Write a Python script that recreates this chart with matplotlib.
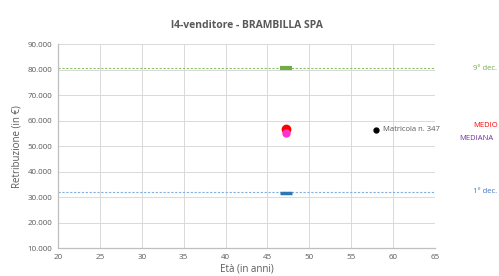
import matplotlib.pyplot as plt
from matplotlib.ticker import FuncFormatter, MultipleLocator

plt.rcParams['font.family'] = ['Open Sans', 'DejaVu Sans']

TITLE = "l4-venditore - BRAMBILLA SPA"

# age / salary values
dec9_age, dec9_value = 47.2, 80600
dec1_age, dec1_value = 47.2, 31800
mean_age, mean_value = 47.2, 56900
median_age, median_value = 47.2, 55300
employee_age, employee_value = 58, 56400
employee_label = "Matricola n. 347"

x_ticks = list(range(20, 70, 5))
GREY = '#595959'


def thousands(v, pos):
    return '{:,.0f}'.format(v).replace(',', '.')


def main():
    fig = plt.figure(figsize=(4.99, 2.76), dpi=100)
    ax = fig.add_axes([0.116, 0.101, 0.756, 0.738])

    ax.axhline(dec9_value, color='#8CC06A', linestyle=(0, (2, 1.5)), linewidth=0.8, zorder=2)
    ax.axhline(dec1_value + 400, color='#7FB0DE', linestyle=(0, (2, 1.5)), linewidth=0.8, zorder=2)

    ax.plot([dec9_age], [dec9_value], marker='_', markersize=9, mew=3, color='#70AD47', zorder=3)
    ax.plot([dec1_age], [dec1_value], marker='_', markersize=9, mew=2.5, color='#2E75B6', zorder=3)
    ax.plot([mean_age], [mean_value], marker='o', markersize=6, color='#FF0000', zorder=4)
    ax.plot([median_age], [median_value], marker='o', markersize=5, color='#FF33CC', zorder=5)
    ax.plot([employee_age], [employee_value], marker='o', markersize=3.5, color='black', zorder=4)
    ax.annotate(employee_label, (employee_age, employee_value), xytext=(5, 0),
                textcoords='offset points', va='center', fontsize=5.5, color=GREY)

    side = dict(xycoords=('axes fraction', 'data'), ha='center', va='center', fontsize=5.5)
    ax.annotate("9° dec.", (1.133, dec9_value), color='#70AD47', **side)
    ax.annotate("MEDIO", (1.133, 58300), color='#FF0000', **side)
    ax.annotate("MEDIANA", (1.11, 53100), color='#7030A0', **side)
    ax.annotate("1° dec.", (1.133, 32400), color='#4472C4', **side)

    ax.set_xlim(20, 65)
    ax.set_ylim(10000, 90000)
    ax.set_xticks(x_ticks)
    ax.yaxis.set_major_locator(MultipleLocator(10000))
    ax.yaxis.set_major_formatter(FuncFormatter(thousands))
    ax.grid(True, color='#D9D9D9', linewidth=0.7, zorder=0)
    ax.set_axisbelow(True)

    for side_name in ['top', 'right']:
        ax.spines[side_name].set_visible(False)
    for side_name in ['left', 'bottom']:
        ax.spines[side_name].set_color('#BFBFBF')
        ax.spines[side_name].set_linewidth(0.9)

    ax.tick_params(length=0, labelsize=5.8, labelcolor=GREY, pad=4)
    ax.set_xlabel("Età (in anni)", fontsize=7, color=GREY, labelpad=2)
    ax.set_ylabel("Retribuzione (in €)", fontsize=7, color=GREY, labelpad=4)
    ax.set_title(TITLE, fontsize=7.5, fontweight='bold', color=GREY, pad=12)

    fig.savefig('out.png', dpi=100)
    plt.close(fig)


if __name__ == "__main__":
    main()
